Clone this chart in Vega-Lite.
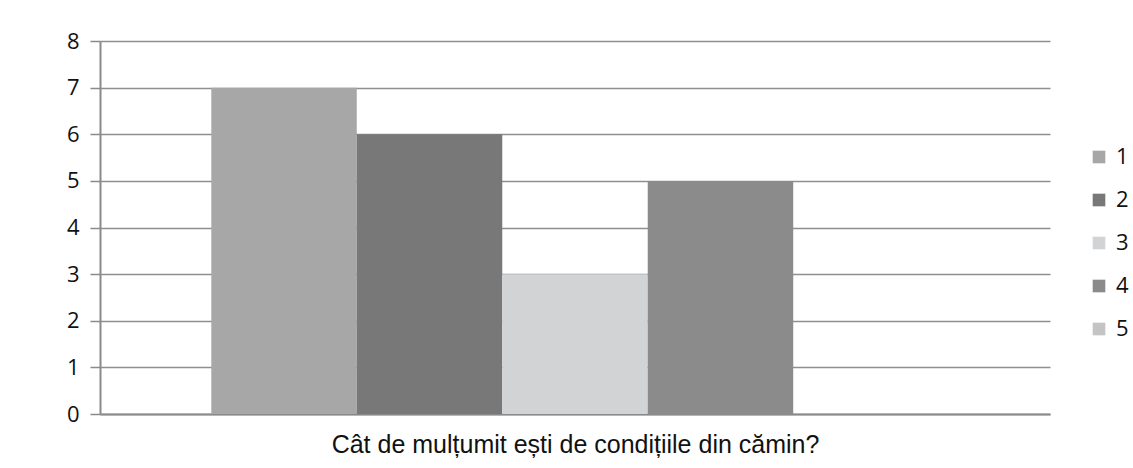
{
  "$schema": "https://vega.github.io/schema/vega-lite/v6.json",
  "width": 950,
  "height": 373,
  "autosize": "none",
  "padding": {"left": 100, "top": 41, "right": 83, "bottom": 54},
  "background": "white",
  "config": {
    "view": {"stroke": null},
    "font": "Open Sans"
  },
  "data": {
    "values": [
      {"raspuns": "1", "numar": 7},
      {"raspuns": "2", "numar": 6},
      {"raspuns": "3", "numar": 3},
      {"raspuns": "4", "numar": 5},
      {"raspuns": "5", "numar": 0}
    ]
  },
  "mark": {"type": "bar"},
  "encoding": {
    "x": {
      "field": "raspuns",
      "type": "nominal",
      "sort": ["1", "2", "3", "4", "5"],
      "scale": {"paddingInner": 0, "paddingOuter": 0.765},
      "axis": {
        "title": "Cât de mulțumit ești de condițiile din cămin?",
        "titleFont": "Liberation Sans",
        "titleFontSize": 25,
        "titleFontWeight": "normal",
        "titleColor": "#111111",
        "titlePadding": 18,
        "labels": false,
        "ticks": false,
        "domainColor": "#8a8a8a",
        "domainWidth": 2
      }
    },
    "y": {
      "field": "numar",
      "type": "quantitative",
      "scale": {"domain": [0, 8], "nice": false},
      "axis": {
        "title": null,
        "values": [0, 1, 2, 3, 4, 5, 6, 7, 8],
        "labelFontSize": 22,
        "labelColor": "#111111",
        "labelPadding": 11,
        "tickSize": 10,
        "tickColor": "#8a8a8a",
        "tickWidth": 1.5,
        "domainColor": "#8a8a8a",
        "domainWidth": 2,
        "grid": true,
        "gridColor": "#8f8f8f",
        "gridWidth": 1.5
      }
    },
    "color": {
      "field": "raspuns",
      "type": "nominal",
      "scale": {
        "domain": ["1", "2", "3", "4", "5"],
        "range": ["#a7a7a7", "#787878", "#d2d3d5", "#8b8b8b", "#c4c4c4"]
      },
      "legend": {
        "title": null,
        "orient": "none",
        "legendX": 988,
        "legendY": 105,
        "symbolType": "square",
        "symbolSize": 160,
        "symbolStrokeWidth": 0,
        "labelFontSize": 22,
        "labelColor": "#111111",
        "labelOffset": 6,
        "rowPadding": 21
      }
    }
  }
}
